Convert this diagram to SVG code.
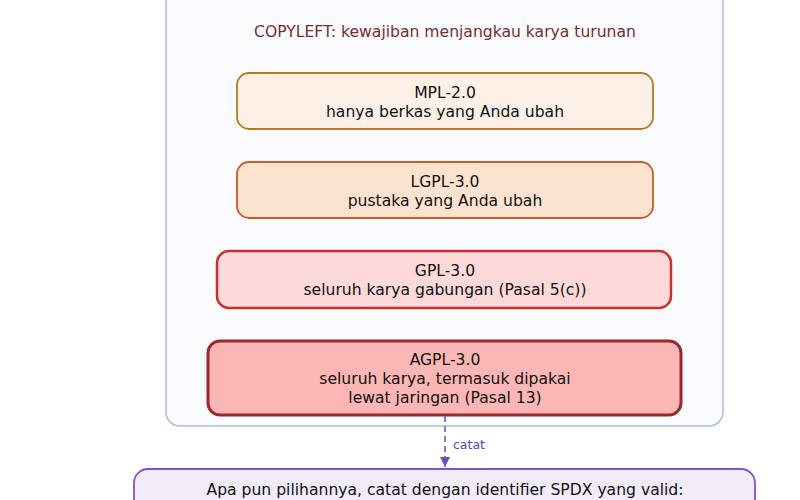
<svg xmlns="http://www.w3.org/2000/svg" width="800" height="500" viewBox="0 0 800 500">
  <style>
    text { font-family: "DejaVu Sans", "Liberation Sans", sans-serif; font-size: 15.6px; fill: #111111; text-anchor: middle; }
    .title { fill: #7a2b2b; }
    .lbl { fill: #5b3fb5; font-size: 12.5px; text-anchor: start; }
    .edge { stroke: #6a4cc4; stroke-width: 1.5; fill: none; stroke-dasharray: 6 4; }
  </style>
  <defs>
    <marker id="arr" viewBox="0 0 10 10" refX="10" refY="5" markerWidth="10" markerHeight="10" markerUnits="userSpaceOnUse" orient="auto">
      <path d="M0,0 L10,5 L0,10 z" fill="#6a4cc4"/>
    </marker>
  </defs>
  <rect width="800" height="500" fill="#ffffff"/>
  <g id="copyleft-group">
    <rect x="166" y="-20" width="557" height="446" rx="14" fill="#f9fbfe" stroke="#a9bedb" stroke-width="1.5"/>
    <text class="title" x="445" y="37">COPYLEFT: kewajiban menjangkau karya turunan</text>
  </g>
  <g id="mpl">
    <rect x="237" y="73" width="416" height="56" rx="12" fill="#fdf0e7" stroke="#b87a1f" stroke-width="1.8"/>
    <text x="445" y="98">MPL-2.0</text>
    <text x="445" y="117">hanya berkas yang Anda ubah</text>
  </g>
  <g id="lgpl">
    <rect x="237" y="162" width="416" height="56" rx="12" fill="#fce3d0" stroke="#c75b29" stroke-width="1.8"/>
    <text x="445" y="187">LGPL-3.0</text>
    <text x="445" y="206">pustaka yang Anda ubah</text>
  </g>
  <g id="gpl">
    <rect x="217" y="251" width="454" height="57" rx="12" fill="#fdd9d9" stroke="#c8302f" stroke-width="2.5"/>
    <text x="445" y="276">GPL-3.0</text>
    <text x="445" y="295">seluruh karya gabungan (Pasal 5(c))</text>
  </g>
  <g id="agpl">
    <rect x="208" y="341" width="473" height="74" rx="12" fill="#fbb6b5" stroke="#9a2a2a" stroke-width="3"/>
    <text x="445" y="365">AGPL-3.0</text>
    <text x="445" y="384">seluruh karya, termasuk dipakai</text>
    <text x="445" y="403">lewat jaringan (Pasal 13)</text>
  </g>
  <g id="connectors">
    <line class="edge" x1="445" y1="416" x2="445" y2="467" marker-end="url(#arr)"/>
    <text class="lbl" x="453" y="449">catat</text>
  </g>
  <g id="spdx">
    <rect x="134" y="469" width="621" height="60" rx="14" fill="#f1ebfa" stroke="#7a56c8" stroke-width="1.8"/>
    <text x="445" y="495">Apa pun pilihannya, catat dengan identifier SPDX yang valid:</text>
  </g>
</svg>
